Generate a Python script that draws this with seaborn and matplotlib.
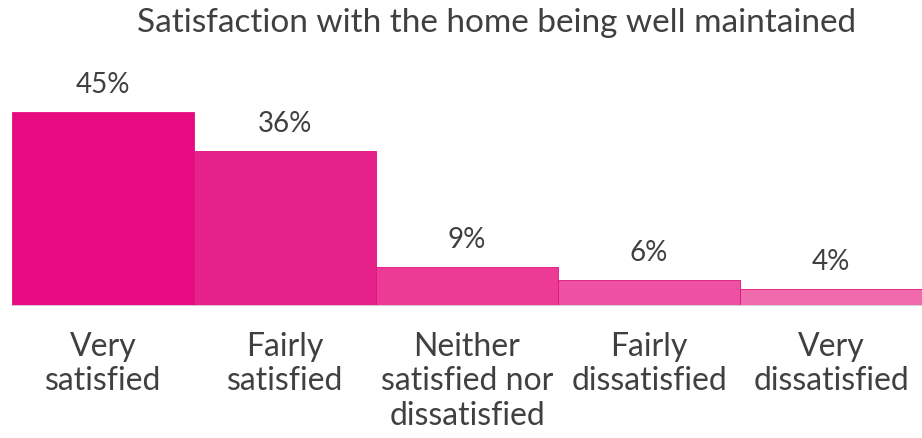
import matplotlib
matplotlib.use("Agg")
import matplotlib.pyplot as plt
import seaborn as sns
import pandas as pd

categories = ["Very\nsatisfied", "Fairly\nsatisfied", "Neither\nsatisfied nor\ndissatisfied",
              "Fairly\ndissatisfied", "Very\ndissatisfied"]
values = [45, 36, 9, 6, 4]
colors = ["#E60B81", "#E7218A", "#EC3A95", "#ED52A2", "#F06BAE"]
title = "Satisfaction with the home being well maintained"

sns.set_theme(style="white")
plt.rcParams["font.family"] = ["Lato", "DejaVu Sans"]
text_color = "#404040"

df = pd.DataFrame({"category": categories, "value": values})

fig = plt.figure(figsize=(9.22, 4.38), dpi=100)
ax = fig.add_axes([12 / 922, (438 - 306) / 438, 910 / 922, 246 / 438])

sns.barplot(data=df, x="category", y="value", hue="category", palette=colors,
            width=1.0, legend=False, ax=ax, edgecolor="#E0107F", linewidth=0.6,
            saturation=1)

ax.set_xlim(-0.5, 4.5)
ax.set_ylim(0, 246 / 4.31)
ax.axhline(0, color="#D9D9D9", linewidth=2, zorder=5)

for i, v in enumerate(values):
    ax.text(i, v + 4.4, f"{v}%", ha="center", va="baseline", fontsize=20, color=text_color)

ax.set_xlabel("")
ax.set_ylabel("")
ax.set_yticks([])
ax.tick_params(axis="x", length=0, pad=19, labelsize=23, labelcolor=text_color)
for lbl in ax.get_xticklabels():
    lbl.set_linespacing(1.17)
sns.despine(ax=ax, left=True, bottom=True)

fig.text(497 / 922, 1 - 23 / 438, title, ha="center", va="center", fontsize=24, color=text_color)

fig.savefig("out.png", dpi=100)
